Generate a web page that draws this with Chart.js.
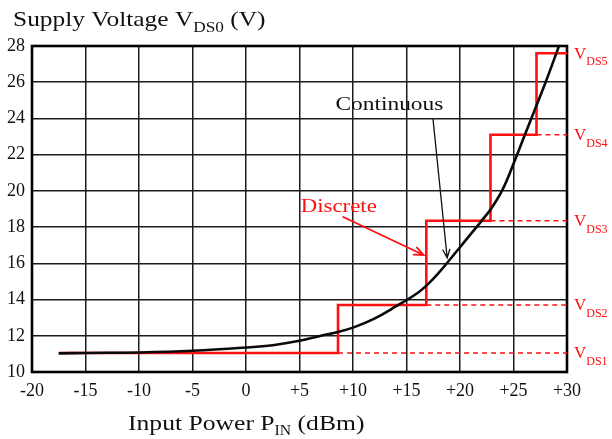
<!DOCTYPE html>
<html>
<head>
<meta charset="utf-8">
<script src="https://cdn.jsdelivr.net/npm/chart.js@4/dist/chart.umd.min.js"></script>
<style>
  html, body { margin: 0; padding: 0; background: #fff; }
  #wrap { width: 612px; height: 439px; }
</style>
</head>
<body>
<div id="wrap"><canvas id="c" width="612" height="439"></canvas></div>
<script>
// Axis ticks
const powerTicks = [-20, -15, -10, -5, 0, 5, 10, 15, 20, 25, 30];
const voltTicks = [10, 12, 14, 16, 18, 20, 22, 24, 26, 28];

// Continuous supply-voltage tracking curve (dBm -> V)
const contPower   = [-17.5, -15, -10, -5, 0, 2.5, 5, 7, 8.5, 10, 12, 14, 16, 17, 18, 19, 20, 21, 22, 23, 24, 25, 26, 27, 28, 29.25];
const contVoltage = [11.03, 11.05, 11.08, 11.17, 11.35, 11.48, 11.72, 12.0, 12.2, 12.45, 12.95, 13.62, 14.35, 14.85, 15.47, 16.17, 16.89, 17.61, 18.33, 19.1, 20.1, 21.5, 23.0, 24.5, 26.0, 28.0];

// Discrete supply levels and the input power where each level takes over
const levelNames   = ['DS1', 'DS2', 'DS3', 'DS4', 'DS5'];
const levelVoltage = [11.05, 13.7, 18.35, 23.1, 27.6];
const switchPower  = [-17.5, 8.6, 16.85, 22.85, 27.15];
const powerMax = 30;

const RED = '#ff1010';
const SERIF = '"Liberation Serif", "Times New Roman", serif';

const stepData = switchPower.map((p, i) => ({ x: p, y: levelVoltage[i] }));
stepData.push({ x: powerMax, y: levelVoltage[levelVoltage.length - 1] });

// dashed extensions of the lower four levels out to the right edge
const dashSets = levelVoltage.slice(0, 4).map((v, i) => ({
  data: [{ x: switchPower[i + 1], y: v }, { x: powerMax, y: v }],
  borderColor: RED,
  borderWidth: 1.6,
  borderDash: [5, 4],
  pointRadius: 0,
  showLine: true,
  fill: false
}));

// text helpers (text is widened slightly to the serif style of the figure)
function stretchedText(ctx, text, x, y, size, sx, color) {
  ctx.save();
  ctx.font = size + 'px ' + SERIF;
  ctx.fillStyle = color;
  ctx.textBaseline = 'alphabetic';
  ctx.textAlign = 'left';
  ctx.translate(x, y);
  ctx.scale(sx, 1);
  ctx.fillText(text, 0, 0);
  const w = ctx.measureText(text).width * sx;
  ctx.restore();
  return w;
}

function arrow(ctx, x1, y1, x2, y2, color, width, head) {
  const a = Math.atan2(y2 - y1, x2 - x1);
  ctx.save();
  ctx.strokeStyle = color;
  ctx.lineWidth = width;
  ctx.lineCap = 'round';
  ctx.beginPath();
  ctx.moveTo(x1, y1);
  ctx.lineTo(x2, y2);
  ctx.moveTo(x2 - head * Math.cos(a - 0.4), y2 - head * Math.sin(a - 0.4));
  ctx.lineTo(x2, y2);
  ctx.lineTo(x2 - head * Math.cos(a + 0.4), y2 - head * Math.sin(a + 0.4));
  ctx.stroke();
  ctx.restore();
}

const framePlugin = {
  id: 'frame',
  beforeDatasetsDraw(chart) {
    const { ctx, chartArea: a } = chart;
    ctx.save();
    ctx.strokeStyle = '#000';
    ctx.lineWidth = 2.6;
    ctx.strokeRect(a.left, a.top, a.right - a.left, a.bottom - a.top);
    ctx.restore();
  }
};

const labelPlugin = {
  id: 'labels',
  afterDraw(chart) {
    const { ctx } = chart;
    const xs = chart.scales.x, ys = chart.scales.y;
    const px = v => xs.getPixelForValue(v);
    const py = v => ys.getPixelForValue(v);

    // y-axis title
    let x = 13;
    x += stretchedText(ctx, 'Supply Voltage V', x, 26, 21, 1.21, '#111');
    x += stretchedText(ctx, 'DS0', x, 32, 15, 1.15, '#111');
    stretchedText(ctx, ' (V)', x, 26, 21, 1.21, '#111');

    // x-axis title
    x = 128;
    x += stretchedText(ctx, 'Input Power P', x, 430, 21, 1.22, '#111');
    x += stretchedText(ctx, 'IN', x, 435, 14, 1.12, '#111');
    stretchedText(ctx, ' (dBm)', x, 430, 21, 1.22, '#111');

    // level labels at the right
    levelVoltage.forEach((v, i) => {
      const y = py(v);
      const w = stretchedText(ctx, 'V', 574, y + 5.5, 17, 1.0, RED);
      stretchedText(ctx, levelNames[i], 574 + w, y + 12, 12, 1.0, RED);
    });

    // annotations
    ctx.save();
    ctx.font = '19.5px ' + SERIF;
    const cw = ctx.measureText('Continuous').width * 1.2;
    ctx.font = '19px ' + SERIF;
    const dw = ctx.measureText('Discrete').width * 1.2;
    ctx.restore();
    stretchedText(ctx, 'Continuous', px(13.4) - cw / 2, py(24.85) + 7, 19.5, 1.2, '#111');
    arrow(ctx, px(17.48), py(23.95), px(18.8), py(16.3), '#111', 1.3, 9);

    stretchedText(ctx, 'Discrete', px(8.67) - dw / 2, py(19.22) + 6.5, 19, 1.2, RED);
    arrow(ctx, px(9.09), py(18.56), px(16.6), py(16.46), RED, 1.8, 10);
  }
};

new Chart(document.getElementById('c'), {
  type: 'scatter',
  data: {
    datasets: [
      {
        label: 'Continuous',
        data: contPower.map((p, i) => ({ x: p, y: contVoltage[i] })),
        borderColor: '#0a0a0a',
        borderWidth: 2.6,
        pointRadius: 0,
        showLine: true,
        tension: 0.4,
        fill: false,
        order: 1
      },
      {
        label: 'Discrete',
        data: stepData,
        borderColor: RED,
        borderWidth: 2.6,
        pointRadius: 0,
        showLine: true,
        stepped: 'before',
        fill: false,
        clip: 4,
        order: 2
      },
      ...dashSets
    ]
  },
  options: {
    responsive: false,
    devicePixelRatio: 1,
    animation: false,
    layout: { padding: { top: 46, right: 45, left: 0, bottom: 0 } },
    plugins: { legend: { display: false }, tooltip: { enabled: false }, title: { display: false } },
    scales: {
      x: {
        type: 'linear',
        min: -20,
        max: 30,
        afterBuildTicks: s => { s.ticks = powerTicks.map(v => ({ value: v })); },
        afterFit: s => { s.height = 67; },
        ticks: {
          autoSkip: false,
          maxRotation: 0,
          padding: 8,
          color: '#111',
          font: { family: SERIF, size: 18 },
          callback: v => (v > 0 ? '+' + v : String(v))
        },
        grid: { color: '#1c1c1c', lineWidth: 1.5, drawTicks: false },
        border: { display: false }
      },
      y: {
        type: 'linear',
        min: 10,
        max: 28,
        afterBuildTicks: s => { s.ticks = voltTicks.map(v => ({ value: v })); },
        afterFit: s => { s.width = 32; },
        ticks: {
          padding: 7,
          color: '#111',
          font: { family: SERIF, size: 18 }
        },
        grid: { color: '#1c1c1c', lineWidth: 1.5, drawTicks: false },
        border: { display: false }
      }
    }
  },
  plugins: [framePlugin, labelPlugin]
});
</script>
</body>
</html>
